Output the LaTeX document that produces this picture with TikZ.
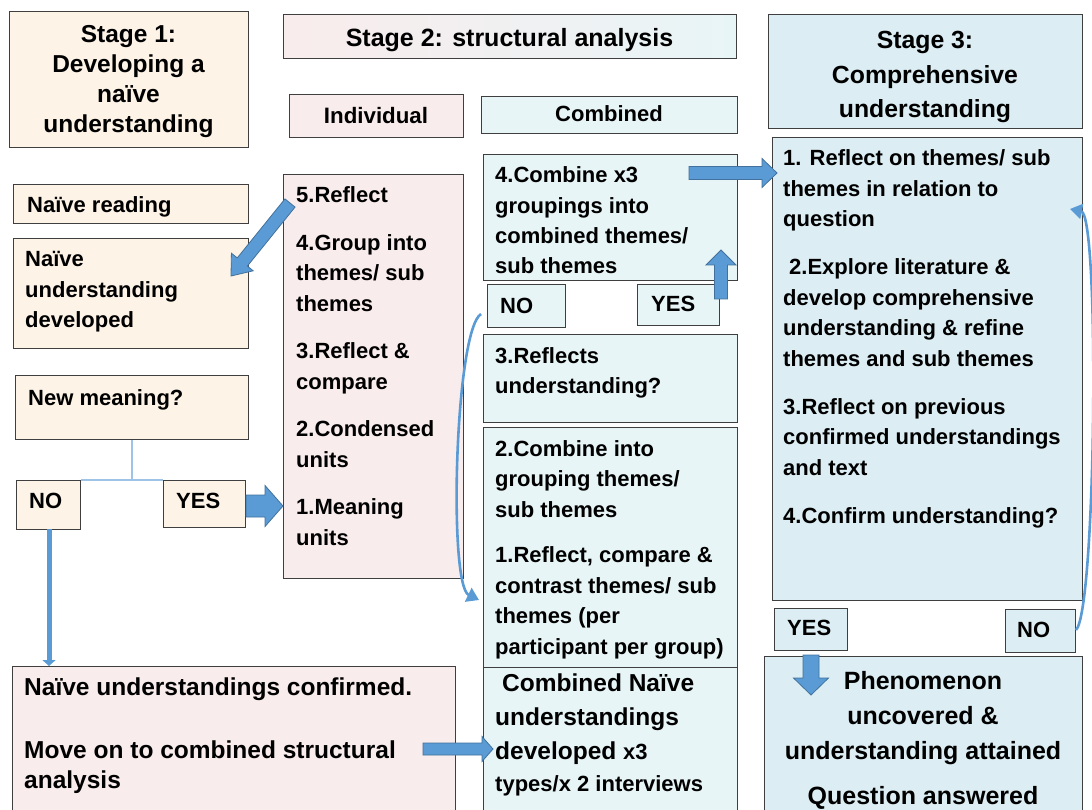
\documentclass[tikz,border=0pt]{standalone}
\usepackage{fontspec}
\setmainfont{Liberation Sans}
\usetikzlibrary{calc,arrows.meta}
\definecolor{peach}{HTML}{FDF3E7}
\definecolor{pinkb}{HTML}{F9ECEC}
\definecolor{cyanb}{HTML}{E8F5F7}
\definecolor{blueb}{HTML}{DCEEF4}
\definecolor{arrfill}{HTML}{5B9BD5}
\definecolor{arrline}{HTML}{41719C}
\definecolor{thinb}{HTML}{9DC3E6}
\definecolor{edge}{HTML}{3F3F3F}
\tikzset{
  box/.style={draw=edge, line width=1.3pt, inner sep=0, anchor=north west},
  txt/.style={inner sep=0, anchor=base west, font=\fontsize{22}{30.5}\selectfont\bfseries},
  ctxt/.style={inner sep=0, anchor=base},
  barrow/.style={fill=arrfill, draw=arrline, line width=0.8pt, line join=miter},
  curv/.style={draw=arrfill, line width=2.6pt, -{Triangle[length=12pt,width=15pt]}},
  thin/.style={draw=thinb, line width=1.5pt},
}
\newcommand\tl[1]{\begin{tabular}[t]{@{}l@{}}#1\end{tabular}}
\newcommand\tc[1]{\begin{tabular}[t]{@{}c@{}}#1\end{tabular}}
\newcommand\bx[6]{\node[box, fill=#2, minimum width={#5-#3}, minimum height={#6-#4}] (#1) at (#3,#4) {};}
\newcommand\blockarrow[5]{%
  \coordinate (ba-h) at ($(#2)!#5pt!(#1)$);
  \filldraw[barrow] ($(#1)!#3pt!90:(#2)$) -- ($(ba-h)!#3pt!-90:(#1)$) -- ($(ba-h)!#4pt!-90:(#1)$) -- (#2)
    -- ($(ba-h)!#4pt!90:(#1)$) -- ($(ba-h)!#3pt!90:(#1)$) -- ($(#1)!#3pt!-90:(#2)$) -- cycle;}
\begin{document}
\begin{tikzpicture}[x=1pt,y=-1pt]
\useasboundingbox (0,0) rectangle (1092,810);
\clip (0,0) rectangle (1092,810);
\fill[white] (0,0) rectangle (1092,810);
% ---------- Stage 1 ----------
\bx{s1}{peach}{9}{11}{248}{147}
\node[ctxt, font=\fontsize{24.5}{30}\selectfont\bfseries] (s1t) at (128.5,43) {\tc{Stage 1:\\Developing a\\naïve\\understanding}};
\bx{nr}{peach}{13}{184}{248}{223}
\node[txt] (nrt) at (27,213) {Naïve reading};
\bx{nud}{peach}{13}{238}{248}{348}
\node[txt] (nudt) at (25,267) {\tl{Naïve\\understanding\\developed}};
\bx{nm}{peach}{15}{375}{248}{439}
\node[txt] (nmt) at (28,405) {New meaning?};
\bx{no1}{peach}{16}{480}{80}{529}
\node[txt] (no1t) at (29,508) {NO};
\bx{yes1}{peach}{163}{480}{245}{527}
\node[txt] (yes1t) at (176,508) {YES};
\draw[thin] (nm.south) -- (nm.south |- no1.north);
\draw[thin] (no1.north east) -- (yes1.north west);
% ---------- Stage 2 ----------
\node[box, left color=pinkb, right color=cyanb, minimum width=453, minimum height=44] (s2) at (283,14) {};
\node[ctxt, font=\fontsize{25}{30}\selectfont\bfseries] (s2t) at (509.5,47) {Stage 2: structural analysis};
\bx{ind}{pinkb}{289}{94}{463}{137}
\node[ctxt, font=\fontsize{22.3}{30}\selectfont\bfseries] (indt) at (376,124) {Individual};
\bx{comb}{cyanb}{481}{96}{737}{133}
\node[ctxt, font=\fontsize{22}{30}\selectfont\bfseries] (combt) at (609,122) {Combined};
\bx{indb}{pinkb}{283}{174}{463}{578}
\node[txt] (indbt) at (296,203) {\tl{5.Reflect\\[17pt]4.Group into\\themes/ sub\\themes\\[17pt]3.Reflect \&\\compare\\[17pt]2.Condensed\\units\\[17pt]1.Meaning\\units}};
\bx{c4}{cyanb}{483}{154}{737}{280}
\node[txt, font=\fontsize{22}{30.3}\selectfont\bfseries] (c4t) at (495,183) {\tl{4.Combine x3\\groupings into\\combined themes/\\sub themes}};
\bx{no2}{cyanb}{487}{284}{565}{327}
\node[txt] (no2t) at (500,313) {NO};
\bx{yes2}{cyanb}{637}{284}{719}{325}
\node[txt] (yes2t) at (651,312) {YES};
\bx{c3}{cyanb}{483}{334}{737}{422}
\node[txt, font=\fontsize{22}{30}\selectfont\bfseries] (c3t) at (495,363) {\tl{3.Reflects\\understanding?}};
\bx{c2}{cyanb}{483}{427}{737}{667}
\node[txt] (c2t) at (495,456) {\tl{2.Combine into\\grouping themes/\\sub themes\\[15pt]1.Reflect, compare \&\\contrast themes/ sub\\themes (per\\participant per group)}};
\bx{c1}{cyanb}{483}{667}{737}{818}
\node[txt, font=\fontsize{24.5}{34}\selectfont\bfseries] (c1t) at (495,691) {\tl{\hspace{7pt}Combined Naïve\\understandings\\developed {\fontsize{22}{30}\selectfont x3}\\[-2pt]{\fontsize{22}{30}\selectfont types/x 2 interviews}}};
\bx{bl}{pinkb}{12}{666}{455}{818}
\node[txt, font=\fontsize{24.5}{30}\selectfont\bfseries] (blt) at (24,695) {\tl{Naïve understandings confirmed.\\[33pt]Move on to combined structural\\analysis}};
% ---------- Stage 3 ----------
\bx{s3}{blueb}{768}{14}{1082}{128}
\node[ctxt, font=\fontsize{24.8}{34.5}\selectfont\bfseries] (s3t) at (925,49) {\tc{Stage 3:\\Comprehensive\\understanding}};
\bx{s3b}{blueb}{772}{137}{1082}{600}
\node[txt] (s3bt) at (783,166) {\tl{1. Reflect on themes/ sub\\themes in relation to\\question\\[17.5pt]\hspace{6pt}2.Explore literature \&\\develop comprehensive\\understanding \& refine\\themes and sub themes\\[17.5pt]3.Reflect on previous\\confirmed understandings\\and text\\[17.5pt]4.Confirm understanding?}};
\bx{yes3}{blueb}{774}{608}{847}{650}
\node[txt] (yes3t) at (787,635) {YES};
\bx{no3}{blueb}{1005}{609}{1075}{652}
\node[txt] (no3t) at (1017,637) {NO};
\bx{ph}{blueb}{764}{656}{1082}{818}
\node[ctxt, font=\fontsize{25}{35}\selectfont\bfseries] (pht) at (923,689) {\tc{Phenomenon\\uncovered \&\\understanding attained\\[10pt]Question answered}};
% ---------- arrows ----------
\coordinate (a1s) at (290,203); \coordinate (a1e) at (231,276);
\blockarrow{a1s}{a1e}{6.5}{14}{18}
\coordinate (a2s) at (246,506); \coordinate (a2e) at (283,506);
\blockarrow{a2s}{a2e}{11}{20.5}{18}
\coordinate (a3s) at (49,529); \coordinate (a3e) at (49,666);
\draw[draw=arrfill, line width=5pt, -{Triangle[length=6pt,width=13pt]}] (a3s) -- (a3e);
\coordinate (a4s) at (689,173); \coordinate (a4e) at (777,173);
\blockarrow{a4s}{a4e}{6.5}{14.5}{15}
\coordinate (a5s) at (721,299); \coordinate (a5e) at (721,250);
\blockarrow{a5s}{a5e}{6.5}{15}{15}
\coordinate (a6s) at (423,749); \coordinate (a6e) at (493,749);
\blockarrow{a6s}{a6e}{6}{12.5}{11}
\coordinate (a7s) at (811,655); \coordinate (a7e) at (811,695);
\blockarrow{a7s}{a7e}{8}{17.5}{17}
% curved arrows
\coordinate (c1s) at (481,314); \coordinate (c1e) at (479,600);
\draw[curv] (c1s) .. controls (455,330) and (448,585) .. (c1e);
\coordinate (c2s) at (1076,630); \coordinate (c2e) at (1070,209);
\draw[curv] (c2s) .. controls (1096,610) and (1100,215) .. (c2e);
\end{tikzpicture}
\end{document}
